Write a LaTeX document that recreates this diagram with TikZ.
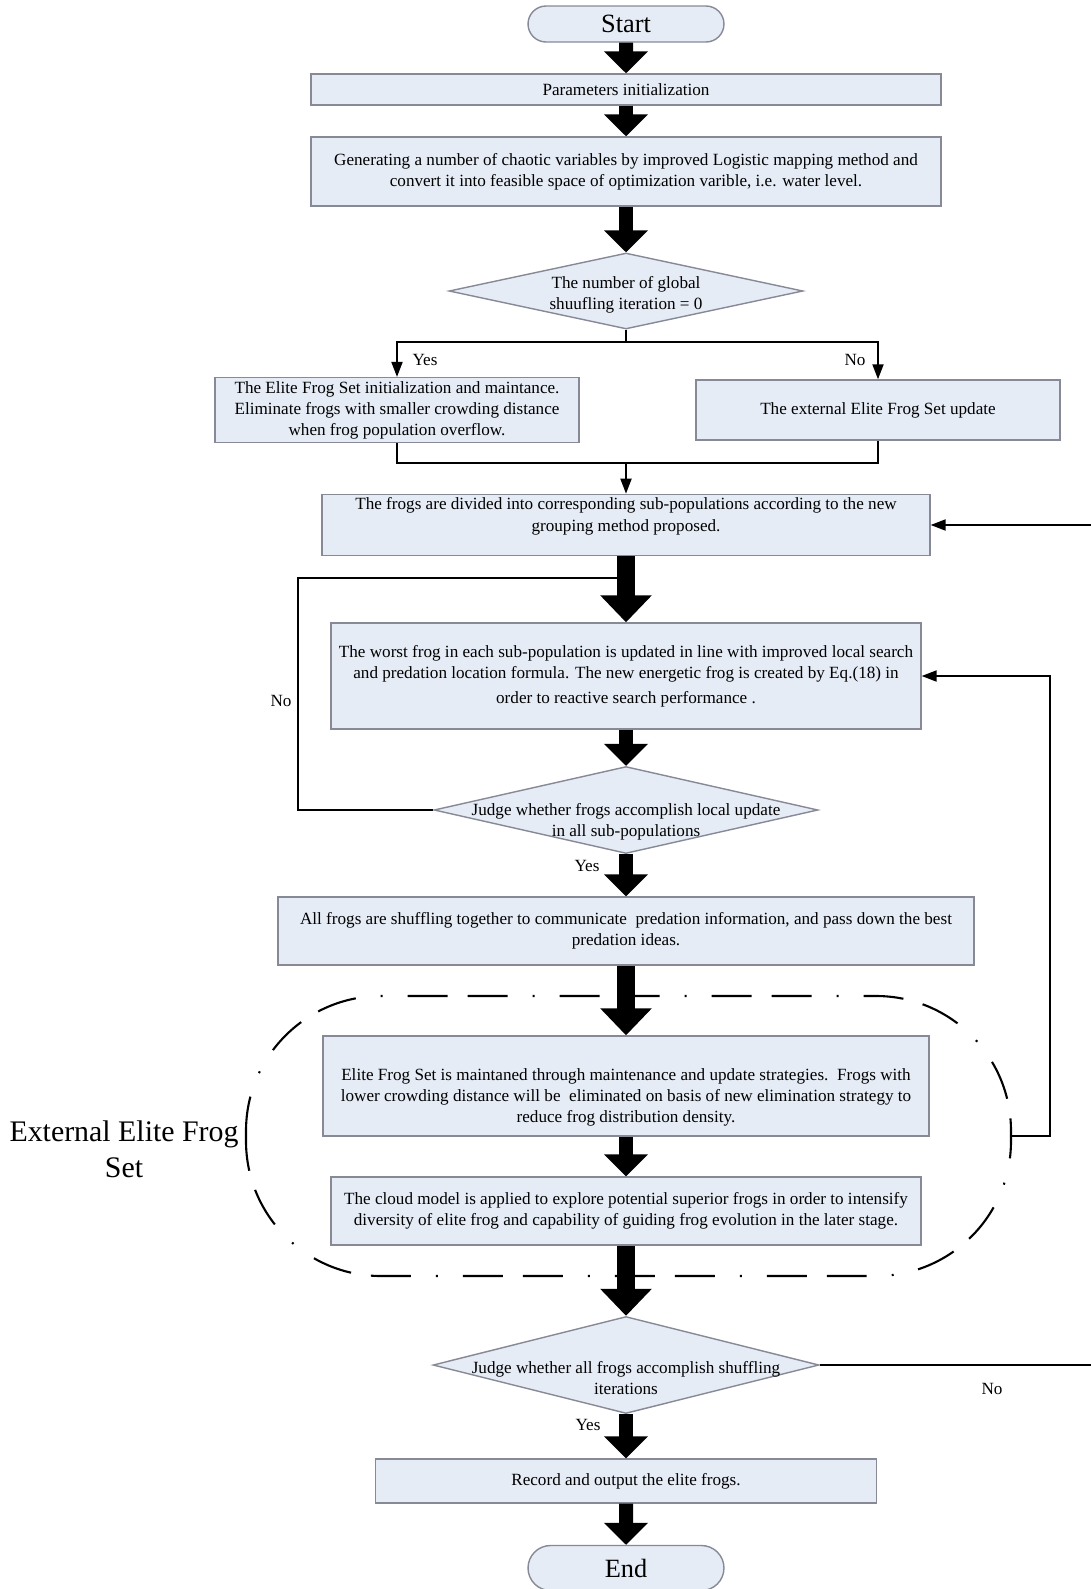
\documentclass[tikz,border=0pt]{standalone}
\usepackage{fontspec}
\setmainfont{Liberation Serif}
\usetikzlibrary{shapes,arrows.meta}

\definecolor{boxfill}{RGB}{229,236,246}
\definecolor{boxline}{RGB}{135,137,150}

\tikzset{
  box/.style={rectangle, draw=boxline, fill=boxfill, thick, align=center, inner sep=2pt,
    font=\fontsize{9.75}{12}\selectfont},
  term/.style={rounded rectangle, draw=boxline, fill=boxfill, thick, inner sep=0pt,
    font=\fontsize{15}{18}\selectfont},
  decision/.style={diamond, draw=boxline, fill=boxfill, thick, inner sep=0pt},
  txt/.style={font=\fontsize{9.75}{12}\selectfont},
  flow/.style={line width=0.28cm, -{Triangle[width=0.86cm,length=0.44cm]}},
  wideflow/.style={line width=0.36cm, -{Triangle[width=1.0cm,length=0.54cm]}},
  wire/.style={line width=1.1pt},
  arr/.style={line width=1.1pt, -{Triangle[width=0.22cm,length=0.3cm]}},
}

\begin{document}
\begin{tikzpicture}[x=0.02cm, y=-0.02cm]
\useasboundingbox (0,0) rectangle (1090,1589);

\node (Start) at (626,24) [term, minimum width=3.92cm, minimum height=0.72cm] {Start};
\node (Init) at (626,89.5) [box, minimum width=12.6cm, minimum height=0.62cm] {Parameters initialization};
\node (Gen) at (626,171.5) [box, minimum width=12.6cm, minimum height=1.38cm]
  {Generating a number of chaotic variables by improved Logistic mapping method and\\
   convert it into feasible space of optimization varible, i.e. water level.};
\node (D1) at (626,291) [decision, minimum width=7.08cm, minimum height=1.52cm,
  label={[txt, align=center, yshift=-2pt]center:The number of global\\shuufling iteration = 0}] {};

\node (Elite) at (397,410) [box, minimum width=7.28cm, minimum height=1.2cm]
  {The Elite Frog Set initialization and maintance.\\
   Eliminate frogs with smaller crowding distance\\
   when frog population overflow.};
\node (Update) at (878,410) [box, minimum width=7.28cm, minimum height=1.2cm]
  {The external Elite Frog Set update};
\node (yes1) at (425,360) [txt] {Yes};
\node (no1) at (855,360) [txt] {No};

\node (Group) at (626,525) [box, minimum width=12.16cm, minimum height=1.2cm]
  {The frogs are divided into corresponding sub-populations according to the new\\
   grouping method proposed.\\ \mbox{}};
\node (Worst) at (626,676) [box, minimum width=11.8cm, minimum height=2.12cm]
  {The worst frog in each sub-population is updated in line with improved local search\\
   and predation location formula. The new energetic frog is created by Eq.(18) in\\[2pt]
   order to reactive search performance .};
\node (D2) at (626,810) [decision, minimum width=7.68cm, minimum height=1.74cm,
  label={[txt, align=center, yshift=-6.5pt]center:Judge whether frogs accomplish local update\\in all sub-populations}] {};
\node (no2) at (281,701) [txt] {No};
\node (yes2) at (587,866) [txt] {Yes};

\node (Shuffle) at (626,931) [box, minimum width=13.92cm, minimum height=1.36cm]
  {All frogs are shuffling together to communicate\ \ predation information, and pass down the best\\
   predation ideas.};
\node (Keep) at (626,1086) [box, minimum width=12.12cm, minimum height=2.0cm]
  {\mbox{}\\[8pt] Elite Frog Set is maintaned through maintenance and update strategies.\ \ Frogs with\\
   lower crowding distance will be\ \ eliminated on basis of new elimination strategy to\\
   reduce frog distribution density.};
\node (Cloud) at (626,1211) [box, minimum width=11.8cm, minimum height=1.36cm]
  {The cloud model is applied to explore potential superior frogs in order to intensify\\
   diversity of elite frog and capability of guiding frog evolution in the later stage.};
\node (ExtSet) at (124,1149) [align=center, font=\fontsize{17}{20.5}\selectfont]
  {External Elite Frog\\Set};

\node (D3) at (626,1365) [decision, minimum width=7.72cm, minimum height=1.94cm,
  label={[txt, align=center, yshift=-7.5pt]center:Judge whether all frogs accomplish shuffling\\iterations}] {};
\node (no3) at (992,1389) [txt] {No};
\node (yes3) at (588,1425) [txt] {Yes};
\node (Out) at (626,1481) [box, minimum width=10.02cm, minimum height=0.88cm]
  {Record and output the elite frogs.};
\node (End) at (626,1568) [term, minimum width=3.92cm, minimum height=0.9cm] {End};

% elite frog set group
\draw [line width=1.2pt, rounded corners=2.7cm, dash pattern=on 0.8cm off 0.4cm on 0.8cm off 0.5cm on 0.04cm off 0.5cm]
  (246,996) rectangle (1011,1276);

\coordinate (Merge) at (626,463);
\coordinate (Join) at (626,578);
\coordinate (Back) at (1010,1136);
\coordinate (Far) at (1095,1365);

% thin connectors
\draw[arr] (D1.south) -- ++(0,12) -| (Elite.north);
\draw[arr] (D1.south) -- ++(0,12) -| (Update.north);
\draw[wire] (Elite.south) |- (Merge) -| (Update.south);
\draw[arr] (Merge) -- (Group);
\draw[wire] (D2.west) -- ++(-135,0) |- (Join);
\draw[arr] (Back) -- ++(40,0) |- (Worst.east);
\draw[arr] (D3.east) -- (Far) |- (Group.east);

% block arrows
\draw[flow] (Start) -- (Init);
\draw[flow] (Init) -- (Gen);
\draw[flow] (Gen) -- (D1);
\draw[wideflow] (Group) -- (Worst);
\draw[flow] (Worst) -- (D2);
\draw[flow] (D2) -- (Shuffle);
\draw[wideflow] (Shuffle) -- (Keep);
\draw[flow] (Keep) -- (Cloud);
\draw[wideflow] (Cloud) -- (D3);
\draw[flow] (D3) -- (Out);
\draw[flow] (Out) -- (End);

\end{tikzpicture}
\end{document}
